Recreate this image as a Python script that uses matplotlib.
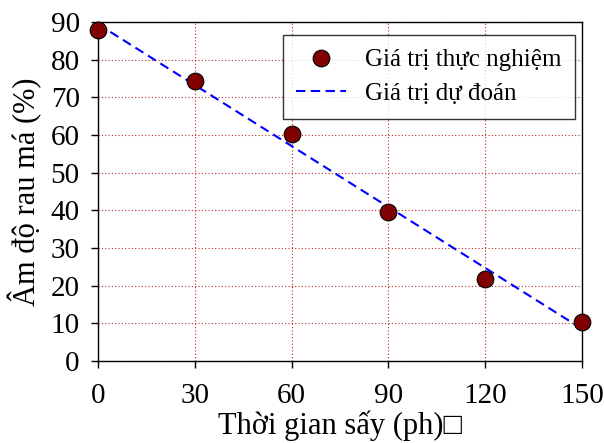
import numpy as np
import matplotlib
matplotlib.use("Agg")
import matplotlib.pyplot as plt

plt.rcParams['font.family'] = ['Liberation Serif', 'DejaVu Sans']

thoi_gian = [0, 30, 60, 90, 120, 150]
do_am_tn = [88.0, 74.5, 60.3, 39.6, 21.8, 10.3]
do_am_dd = [89.5, 73.3, 57.1, 40.9, 24.7, 8.5]

fig, ax = plt.subplots(figsize=(6.04, 4.43), dpi=100)
fig.subplots_adjust(left=0.162, right=0.964, top=0.95, bottom=0.185)

ax.plot(thoi_gian, do_am_tn, 'o', color='#800000', markeredgecolor='black',
        markeredgewidth=0.8, markersize=12, label='Giá trị thực nghiệm',
        zorder=4, clip_on=False)
ax.plot(thoi_gian, do_am_dd, '--', color='blue', lw=1.5, dashes=(4.5, 2.6),
        label='Giá trị dự đoán', zorder=3)

ax.set_xlim(0, 150)
ax.set_ylim(0, 90)
ax.set_xticks(np.arange(0, 151, 30))
ax.set_yticks(np.arange(0, 91, 10))
ax.tick_params(labelsize=21, direction='out', length=5, width=1)
ax.tick_params(axis='x', pad=11)
ax.tick_params(axis='y', pad=8)
ax.grid(True, color='#b82a2a', linestyle=(0, (1, 2)), linewidth=0.8)
for s in ax.spines.values():
    s.set_linewidth(1.0)

ax.set_xlabel('Thời gian sấy (ph)□', fontsize=22, labelpad=1)
ax.set_ylabel('Âm độ rau má (%)', fontsize=22, labelpad=6)

leg = ax.legend(loc='upper right', bbox_to_anchor=(0.986, 0.962),
                borderaxespad=0, fontsize=18, frameon=True, fancybox=False,
                edgecolor='black', handlelength=2.0, borderpad=0.55,
                labelspacing=0.45, handletextpad=0.75)
leg.get_frame().set_linewidth(1.0)

fig.savefig('out.png', dpi=100)
